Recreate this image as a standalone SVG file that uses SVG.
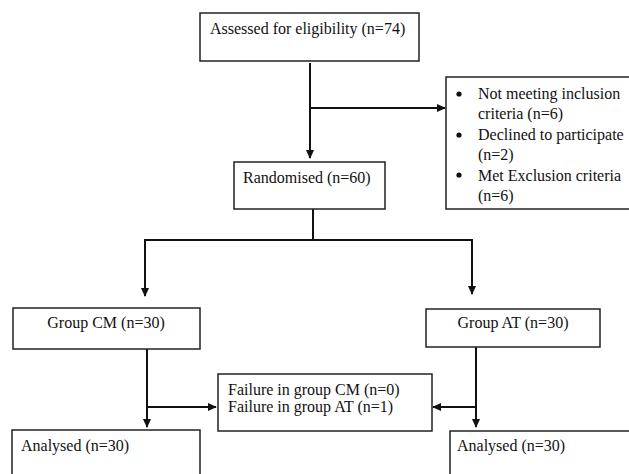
<svg xmlns="http://www.w3.org/2000/svg" width="629" height="474" viewBox="0 0 629 474">
<defs>
<style>
.box{fill:#fff;stroke:#222;stroke-width:1.5}
.t{font-family:"Liberation Serif","Times New Roman",serif;font-size:16px;fill:#111}
.c{fill:none;stroke:#111;stroke-width:2}
.b{fill:#111}
</style>
<marker id="ah" viewBox="0 0 10 10" refX="9" refY="5" markerWidth="9" markerHeight="9" markerUnits="userSpaceOnUse" orient="auto">
<path d="M0,0.5 L10,5 L0,9.5 z" fill="#111"/>
</marker>
</defs>
<rect width="629" height="474" fill="#fff"/>
<g id="connectors">
<path class="c" d="M310,63 V158" marker-end="url(#ah)"/>
<path class="c" d="M310,108 H445" marker-end="url(#ah)"/>
<path class="c" d="M313,209 V240"/>
<path class="c" d="M145,240 H472"/>
<path class="c" d="M145,239 V296" marker-end="url(#ah)"/>
<path class="c" d="M472,239 V294" marker-end="url(#ah)"/>
<path class="c" d="M147,349 V427" marker-end="url(#ah)"/>
<path class="c" d="M147,407 H216" marker-end="url(#ah)"/>
<path class="c" d="M476,347 V427" marker-end="url(#ah)"/>
<path class="c" d="M476,407 H433" marker-end="url(#ah)"/>
</g>
<g id="assessed">
<rect class="box" x="200" y="13" width="219" height="48"/>
<text class="t" x="210" y="34">Assessed for eligibility (n=74)</text>
</g>
<g id="excluded">
<rect class="box" x="446" y="77" width="200" height="132"/>
<circle class="b" cx="459" cy="94" r="2.6"/>
<circle class="b" cx="459" cy="135" r="2.6"/>
<circle class="b" cx="459" cy="175" r="2.6"/>
<text class="t" x="478" y="99">Not meeting inclusion</text>
<text class="t" x="478" y="119">criteria (n=6)</text>
<text class="t" x="478" y="140">Declined to participate</text>
<text class="t" x="478" y="160">(n=2)</text>
<text class="t" x="478" y="181">Met Exclusion criteria</text>
<text class="t" x="478" y="201">(n=6)</text>
</g>
<g id="randomised">
<rect class="box" x="234" y="162" width="151" height="47"/>
<text class="t" x="243" y="183">Randomised (n=60)</text>
</g>
<g id="groupCM">
<rect class="box" x="13" y="308" width="187" height="41"/>
<text class="t" x="106" y="328" text-anchor="middle">Group CM (n=30)</text>
</g>
<g id="groupAT">
<rect class="box" x="426" y="309" width="174" height="38"/>
<text class="t" x="513" y="328" text-anchor="middle">Group AT (n=30)</text>
</g>
<g id="failure">
<rect class="box" x="218" y="374" width="214" height="57"/>
<text class="t" x="228" y="395">Failure in group CM (n=0)</text>
<text class="t" x="228" y="412">Failure in group AT (n=1)</text>
</g>
<g id="analysedCM">
<rect class="box" x="12" y="430" width="188" height="60"/>
<text class="t" x="21" y="451">Analysed (n=30)</text>
</g>
<g id="analysedAT">
<rect class="box" x="450" y="431" width="200" height="60"/>
<text class="t" x="457" y="451">Analysed (n=30)</text>
</g>
</svg>
